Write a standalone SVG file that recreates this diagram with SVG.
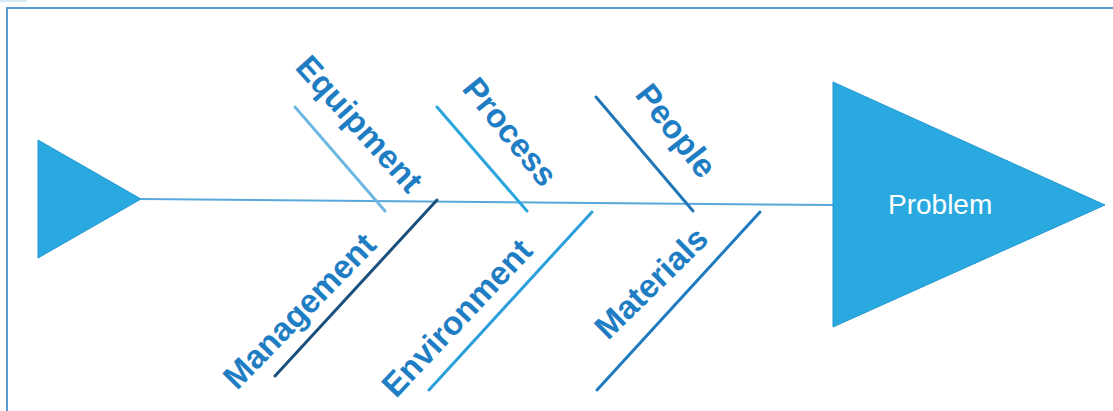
<svg xmlns="http://www.w3.org/2000/svg" width="1113" height="411" viewBox="0 0 1113 411">
  <style>
    .lbl { font-family: "Liberation Sans", Arial, sans-serif; font-weight: bold; font-size: 33px; fill: #1F7EC3; }
    .bone { stroke-width: 3; stroke-linecap: round; fill: none; }
    .head { fill: #29A9E0; stroke: #2399D2; stroke-width: 1; }
  </style>
  <rect x="0" y="0" width="1113" height="411" fill="#FFFFFF"/>
  <rect x="0" y="0" width="27" height="2" fill="#D6EAF8"/>
  <rect x="7" y="8" width="1120" height="420" fill="none" stroke="#5B9BD5" stroke-width="2"/>

  <g id="connectors">
    <line id="spine" x1="141" y1="199" x2="834" y2="205" stroke="#5AA8DB" stroke-width="2"/>
    <line class="bone" x1="295" y1="107" x2="385" y2="211" stroke="#6CB8E2"/>
    <line class="bone" x1="437" y1="107" x2="527" y2="211" stroke="#2AA6DF"/>
    <line class="bone" x1="596" y1="97" x2="693" y2="211" stroke="#1F75B5"/>
    <line class="bone" x1="437" y1="200" x2="275" y2="376" stroke="#1B4F7C"/>
    <line class="bone" x1="592" y1="212" x2="429" y2="390" stroke="#2A9FDB"/>
    <line class="bone" x1="760" y1="212" x2="597" y2="390" stroke="#1F7BC0"/>
  </g>

  <g id="tail">
    <polygon class="head" points="38,140 38,258 141,199"/>
  </g>

  <g id="problem">
    <polygon class="head" points="833,82 833,327 1105,205"/>
    <text x="888" y="214" font-family="Liberation Sans, Arial, sans-serif" font-size="28" fill="#FFFFFF">Problem</text>
  </g>

  <g id="equipment">
    <text class="lbl" transform="translate(294,68) rotate(48)">Equipment</text>
  </g>
  <g id="process">
    <text class="lbl" transform="translate(461,89) rotate(51)">Process</text>
  </g>
  <g id="people">
    <text class="lbl" transform="translate(634,95) rotate(52)">People</text>
  </g>
  <g id="management">
    <text class="lbl" transform="translate(237,391) rotate(-45.7)">Management</text>
  </g>
  <g id="environment">
    <text class="lbl" transform="translate(396,399) rotate(-46.7)">Environment</text>
  </g>
  <g id="materials">
    <text class="lbl" transform="translate(608,341) rotate(-44.4)">Materials</text>
  </g>
</svg>
